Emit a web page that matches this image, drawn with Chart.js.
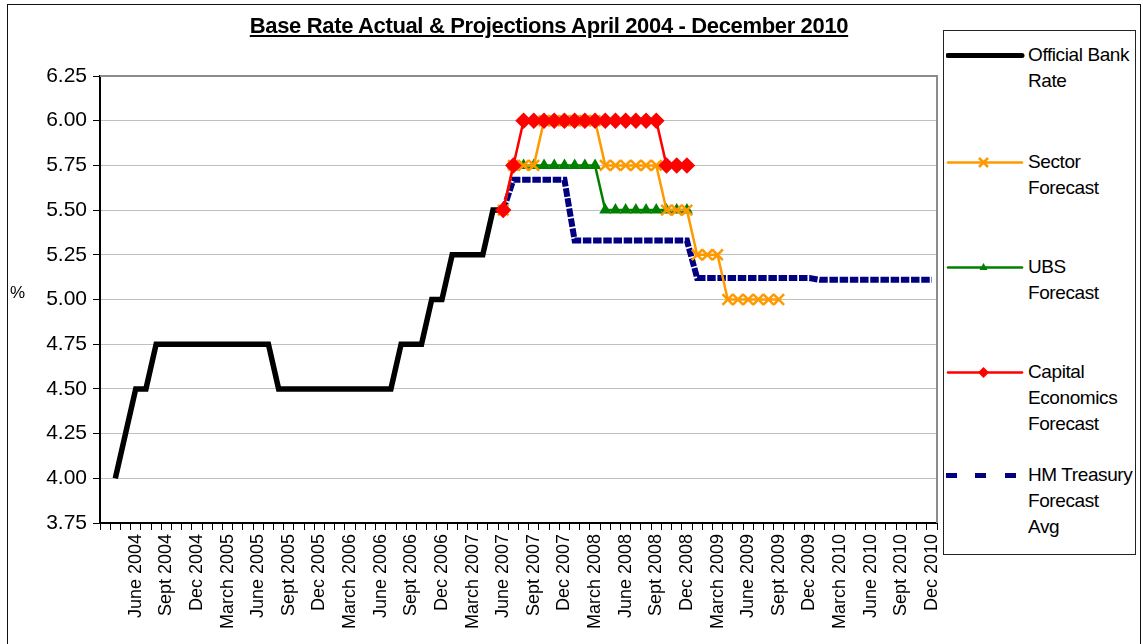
<!DOCTYPE html>
<html>
<head>
<meta charset="utf-8">
<title>Base Rate Actual & Projections</title>
<script src="https://cdn.jsdelivr.net/npm/chart.js@4/dist/chart.umd.min.js"></script>
<style>
  body { margin: 0; background: #fff; font-family: Arial, "Liberation Sans", sans-serif; }
  #wrap { position: relative; width: 1143px; height: 644px; overflow: hidden; }
  #frame { position: absolute; left: 7px; top: 4px; width: 1132px; height: 660px; border: 1px solid #111; }
  #rate-chart { position: absolute; left: 0; top: 0; }
  #title {
    position: absolute; left: 0; width: 1098px; top: 13px; text-align: center;
    font-weight: bold; font-size: 22px; letter-spacing: -0.35px; text-decoration: underline; color: #000;
  }
  #ylabel { position: absolute; left: 10px; top: 283px; font-size: 17px; }
  #legend {
    position: absolute; left: 943px; top: 30px; width: 191px; height: 523px;
    border: 1px solid #222; background: #fff;
  }
  .item { position: absolute; left: 0; }
  .item svg { position: absolute; left: 2px; top: 0; }
  .item span { position: absolute; left: 84px; top: -1px; font-size: 19px; line-height: 26px; white-space: nowrap; letter-spacing: -0.4px; }
</style>
</head>
<body>
<div id="wrap">
  <div id="frame"></div>
  <canvas id="rate-chart" width="1143" height="644"></canvas>
  <div id="title">Base Rate Actual &amp; Projections April 2004 - December 2010</div>
  <div id="ylabel">%</div>
  <div id="legend"></div>
</div>
<script>
// Axis labels, every third month from June 2004 onward
const quarterLabels = [
  'June 2004', 'Sept 2004', 'Dec 2004',
  'March 2005', 'June 2005', 'Sept 2005', 'Dec 2005',
  'March 2006', 'June 2006', 'Sept 2006', 'Dec 2006',
  'March 2007', 'June 2007', 'Sept 2007', 'Dec 2007',
  'March 2008', 'June 2008', 'Sept 2008', 'Dec 2008',
  'March 2009', 'June 2009', 'Sept 2009', 'Dec 2009',
  'March 2010', 'June 2010', 'Sept 2010', 'Dec 2010'
];

// Monthly values, March 2004 .. December 2010 (one row per year)
const bankRate = [
  null, 4.00, 4.25, 4.50, 4.50, 4.75, 4.75, 4.75, 4.75, 4.75,
  4.75, 4.75, 4.75, 4.75, 4.75, 4.75, 4.75, 4.50, 4.50, 4.50, 4.50, 4.50,
  4.50, 4.50, 4.50, 4.50, 4.50, 4.50, 4.50, 4.75, 4.75, 4.75, 5.00, 5.00,
  5.25, 5.25, 5.25, 5.25, 5.50, 5.50, null, null, null, null, null, null,
  null, null, null, null, null, null, null, null, null, null, null, null,
  null, null, null, null, null, null, null, null, null, null, null, null,
  null, null, null, null, null, null, null, null, null, null, null, null
];

const sectorForecast = [
  null, null, null, null, null, null, null, null, null, null,
  null, null, null, null, null, null, null, null, null, null, null, null,
  null, null, null, null, null, null, null, null, null, null, null, null,
  null, null, null, null, null, 5.50, 5.75, 5.75, 5.75, 6.00, 6.00, 6.00,
  6.00, 6.00, 6.00, 5.75, 5.75, 5.75, 5.75, 5.75, 5.75, 5.50, 5.50, 5.50,
  5.25, 5.25, 5.25, 5.00, 5.00, 5.00, 5.00, 5.00, 5.00, null, null, null,
  null, null, null, null, null, null, null, null, null, null, null, null
];

const ubsForecast = [
  null, null, null, null, null, null, null, null, null, null,
  null, null, null, null, null, null, null, null, null, null, null, null,
  null, null, null, null, null, null, null, null, null, null, null, null,
  null, null, null, null, null, null, 5.75, 5.75, 5.75, 5.75, 5.75, 5.75,
  5.75, 5.75, 5.75, 5.50, 5.50, 5.50, 5.50, 5.50, 5.50, 5.50, 5.50, 5.50,
  null, null, null, null, null, null, null, null, null, null, null, null,
  null, null, null, null, null, null, null, null, null, null, null, null
];

const capitalForecast = [
  null, null, null, null, null, null, null, null, null, null,
  null, null, null, null, null, null, null, null, null, null, null, null,
  null, null, null, null, null, null, null, null, null, null, null, null,
  null, null, null, null, null, 5.50, 5.75, 6.00, 6.00, 6.00, 6.00, 6.00,
  6.00, 6.00, 6.00, 6.00, 6.00, 6.00, 6.00, 6.00, 6.00, 5.75, 5.75, 5.75,
  null, null, null, null, null, null, null, null, null, null, null, null,
  null, null, null, null, null, null, null, null, null, null, null, null
];

const treasuryAvg = [
  null, null, null, null, null, null, null, null, null, null,
  null, null, null, null, null, null, null, null, null, null, null, null,
  null, null, null, null, null, null, null, null, null, null, null, null,
  null, null, null, null, null, 5.50, 5.67, 5.67, 5.67, 5.67, 5.67, 5.67,
  5.33, 5.33, 5.33, 5.33, 5.33, 5.33, 5.33, 5.33, 5.33, 5.33, 5.33, 5.33,
  5.12, 5.12, 5.12, 5.12, 5.12, 5.12, 5.12, 5.12, 5.12, 5.12, 5.12, 5.12,
  5.11, 5.11, 5.11, 5.11, 5.11, 5.11, 5.11, 5.11, 5.11, 5.11, 5.11, 5.11
];

const yTicks = { min: 3.75, max: 6.25, step: 0.25 };

// one slot per month, named only at each quarter
const categories = bankRate.map((_, i) =>
  (i > 0 && i % 3 === 0) ? quarterLabels[i / 3 - 1] : ''
);

const FONT = 'Arial, "Liberation Sans", sans-serif';

// grey frame on the top and right of the plot area
const plotFrame = {
  id: 'plotFrame',
  beforeDatasetsDraw(chart) {
    const { ctx, chartArea: a } = chart;
    ctx.save();
    ctx.strokeStyle = '#8c8c8c';
    ctx.lineWidth = 2;
    ctx.beginPath();
    ctx.moveTo(a.left, a.top);
    ctx.lineTo(a.right, a.top);
    ctx.lineTo(a.right, a.bottom);
    ctx.stroke();
    ctx.restore();
  }
};

const series = [
  { label: 'Official Bank Rate', data: bankRate, borderColor: '#000000', borderWidth: 5.5,
    pointRadius: 0, order: 5 },
  { label: 'Sector Forecast', data: sectorForecast, borderColor: '#ff9900', borderWidth: 2.5,
    pointStyle: 'crossRot', pointRadius: 7.5, pointBorderWidth: 2.5, order: 2 },
  { label: 'UBS Forecast', data: ubsForecast, borderColor: '#008000', borderWidth: 2.5,
    pointStyle: 'triangle', pointRadius: 4.5, pointBackgroundColor: '#008000', order: 3 },
  { label: 'Capital Economics Forecast', data: capitalForecast, borderColor: '#ff0000', borderWidth: 2.5,
    pointStyle: 'rectRot', pointRadius: 6.5, pointBackgroundColor: '#ff0000', order: 1 },
  { label: 'HM Treasury Forecast Avg', data: treasuryAvg, borderColor: '#000080', borderWidth: 6,
    borderDash: [8.5, 1.7], borderCapStyle: 'butt', pointRadius: 0, order: 4 }
];

new Chart(document.getElementById('rate-chart'), {
  type: 'line',
  data: {
    labels: categories,
    datasets: series.map(s => Object.assign({
      fill: false, tension: 0, spanGaps: false,
      pointBorderColor: s.borderColor, pointHoverRadius: 0
    }, s))
  },
  options: {
    responsive: false,
    animation: false,
    events: [],
    layout: { padding: { left: 0, top: 76, right: 206, bottom: 0 } },
    plugins: { legend: { display: false }, title: { display: false }, tooltip: { enabled: false } },
    scales: {
      x: {
        offset: true,
        grid: { offset: true, drawOnChartArea: false, tickLength: 7, tickColor: '#000', tickWidth: 1 },
        border: { color: '#000', width: 2 },
        ticks: { autoSkip: false, minRotation: 90, maxRotation: 90, padding: 4,
                 color: '#000', font: { family: FONT, size: 18 } },
        afterFit(scale) { scale.height = 121; }
      },
      y: {
        min: yTicks.min, max: yTicks.max,
        grid: { color: '#c0c0c0', lineWidth: 1, tickLength: 7, tickColor: '#000' },
        border: { color: '#000', width: 2 },
        ticks: { stepSize: yTicks.step, padding: 6, color: '#000',
                 font: { family: FONT, size: 21 },
                 callback: v => v.toFixed(2) },
        afterFit(scale) { scale.width = 100; }
      }
    }
  },
  plugins: [plotFrame]
});

// legend: sample line plus wrapped name for each series
const legendRows = [
  { top: 12, lines: ['Official Bank', 'Rate'] },
  { top: 119, lines: ['Sector', 'Forecast'] },
  { top: 224, lines: ['UBS', 'Forecast'] },
  { top: 329, lines: ['Capital', 'Economics', 'Forecast'] },
  { top: 432, lines: ['HM Treasury', 'Forecast', 'Avg'] }
];

function sampleSvg(s) {
  const c = s.borderColor;
  let body = '';
  if (s.borderDash) {
    body = [0, 29, 59].map(x =>
      `<rect x="${x}" y="10" width="11" height="5" fill="${c}"/>`).join('');
  } else {
    const w = s.borderWidth > 4 ? 5 : 2.5;
    body = `<line x1="2" y1="12.5" x2="76" y2="12.5" stroke="${c}" stroke-width="${w}" stroke-linecap="round"/>`;
  }
  if (s.pointStyle === 'crossRot') {
    body += `<path d="M33 8 L42 17 M42 8 L33 17" stroke="${c}" stroke-width="2.5"/>`;
  } else if (s.pointStyle === 'triangle') {
    body += `<path d="M37.5 8 L41.5 15 L33.5 15 Z" fill="${c}"/>`;
  } else if (s.pointStyle === 'rectRot') {
    body += `<path d="M37.5 7 L43 12.5 L37.5 18 L32 12.5 Z" fill="${c}"/>`;
  }
  return `<svg width="80" height="25">${body}</svg>`;
}

const legendEl = document.getElementById('legend');
legendRows.forEach((row, i) => {
  const item = document.createElement('div');
  item.className = 'item';
  item.style.top = row.top + 'px';
  item.innerHTML = sampleSvg(series[i]) + `<span>${row.lines.join('<br>')}</span>`;
  legendEl.appendChild(item);
});
</script>
</body>
</html>
